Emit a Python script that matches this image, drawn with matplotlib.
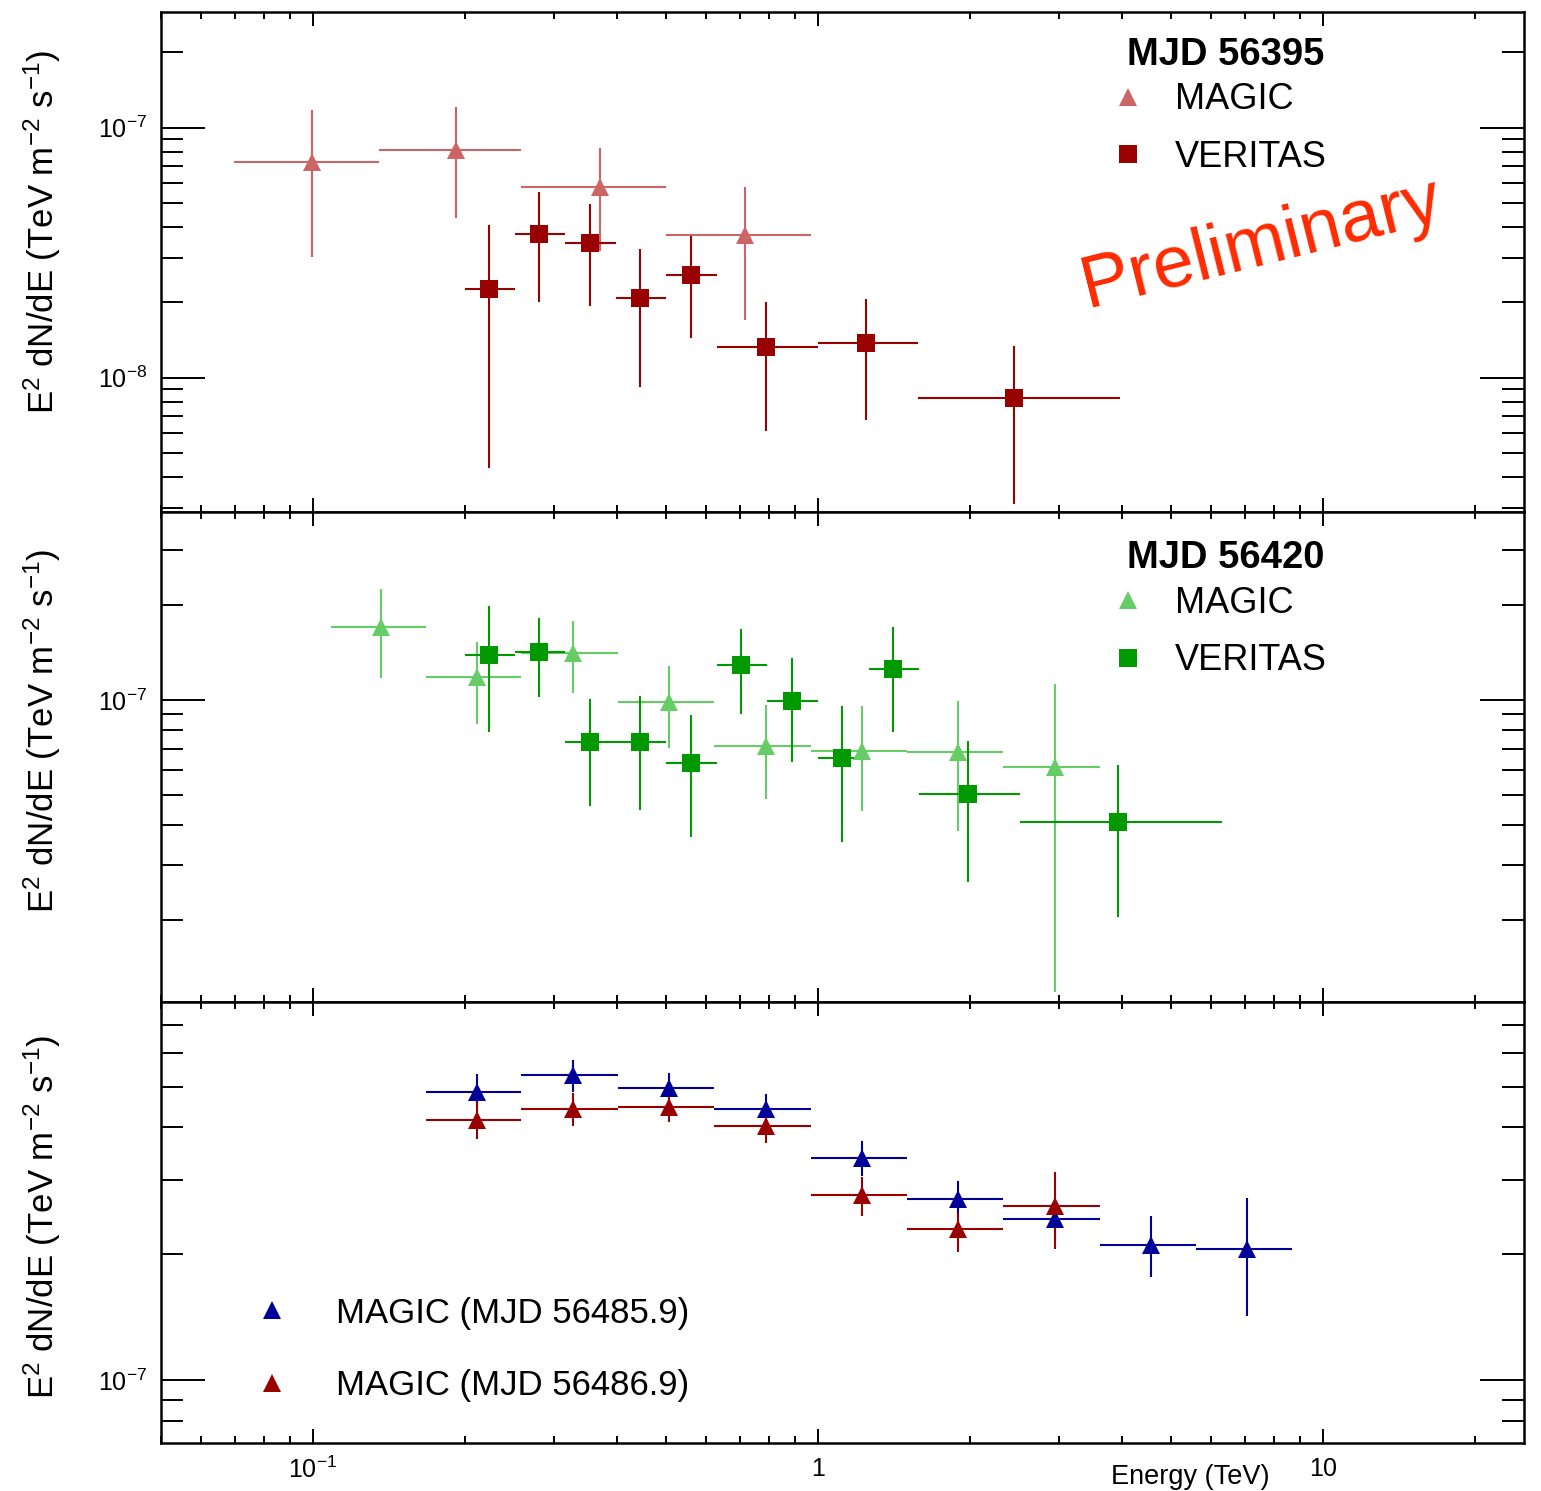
import matplotlib
matplotlib.use('Agg')
import matplotlib.pyplot as plt
import numpy as np
from matplotlib.ticker import LogLocator, NullFormatter

plt.rcParams['font.family'] = ['Liberation Sans', 'DejaVu Sans']
plt.rcParams['mathtext.fontset'] = 'custom'
plt.rcParams['mathtext.rm'] = 'Liberation Sans'
plt.rcParams['mathtext.it'] = 'Liberation Sans:italic'
plt.rcParams['mathtext.bf'] = 'Liberation Sans:bold'

#%% dados  (energia em TeV, fluxo E^2 dN/dE em TeV m^-2 s^-1)
# painel 1 - MJD 56395
m1_e    = [0.0995, 0.192, 0.370, 0.717]
m1_elo  = [0.0698, 0.1351, 0.2582, 0.500]
m1_ehi  = [0.1351, 0.2582, 0.500, 0.968]
m1_f    = [7.32e-8, 8.17e-8, 5.77e-8, 3.71e-8]
m1_flo  = [3.03e-8, 4.34e-8, 3.21e-8, 1.70e-8]
m1_fhi  = [1.18e-7, 1.21e-7, 8.32e-8, 5.77e-8]

v1_e    = [0.223, 0.280, 0.354, 0.444, 0.561, 0.789, 1.245, 2.445]
v1_elo  = [0.200, 0.251, 0.316, 0.398, 0.500, 0.631, 1.000, 1.578]
v1_ehi  = [0.251, 0.316, 0.398, 0.500, 0.631, 1.000, 1.578, 3.96]
v1_f    = [2.26e-8, 3.75e-8, 3.45e-8, 2.08e-8, 2.57e-8, 1.32e-8, 1.37e-8, 8.32e-9]
v1_flo  = [4.34e-9, 2.01e-8, 1.94e-8, 9.21e-9, 1.44e-8, 6.09e-9, 6.74e-9, 3.12e-9]
v1_fhi  = [4.07e-8, 5.51e-8, 4.93e-8, 3.27e-8, 3.68e-8, 2.01e-8, 2.06e-8, 1.34e-8]

# painel 2 - MJD 56420
m2_e    = [0.1364, 0.2112, 0.3272, 0.5069, 0.789, 1.222, 1.893, 2.946]
m2_elo  = [0.1085, 0.1674, 0.2582, 0.4018, 0.622, 0.968, 1.50, 2.325]
m2_ehi  = [0.1674, 0.2582, 0.4018, 0.622, 0.968, 1.50, 2.325, 3.617]
m2_f    = [1.70e-7, 1.18e-7, 1.41e-7, 9.86e-8, 7.15e-8, 6.90e-8, 6.85e-8, 6.14e-8]
m2_flo  = [1.17e-7, 8.39e-8, 1.05e-7, 7.05e-8, 4.86e-8, 4.45e-8, 3.85e-8, 1.18e-8]
m2_fhi  = [2.25e-7, 1.53e-7, 1.78e-7, 1.28e-7, 9.64e-8, 9.57e-8, 9.93e-8, 1.12e-7]

v2_e    = [0.223, 0.280, 0.354, 0.444, 0.561, 0.704, 0.888, 1.116, 1.408, 1.982, 3.93]
v2_elo  = [0.200, 0.251, 0.316, 0.398, 0.500, 0.631, 0.794, 1.000, 1.259, 1.585, 2.512]
v2_ehi  = [0.251, 0.316, 0.398, 0.500, 0.631, 0.794, 1.000, 1.259, 1.585, 2.512, 6.31]
v2_f    = [1.39e-7, 1.42e-7, 7.36e-8, 7.36e-8, 6.32e-8, 1.29e-7, 9.93e-8, 6.55e-8, 1.25e-7, 5.04e-8, 4.11e-8]
v2_flo  = [7.92e-8, 1.02e-7, 4.59e-8, 4.49e-8, 3.66e-8, 9.03e-8, 6.37e-8, 3.53e-8, 7.92e-8, 2.65e-8, 2.04e-8]
v2_fhi  = [1.98e-7, 1.82e-7, 1.01e-7, 1.03e-7, 8.96e-8, 1.68e-7, 1.36e-7, 9.57e-8, 1.70e-7, 7.42e-8, 6.23e-8]

# painel 3 - MAGIC em duas noites
a3_e    = [0.2112, 0.3272, 0.5069, 0.789, 1.222, 1.893, 2.946, 4.565, 7.07]
a3_elo  = [0.1674, 0.2582, 0.4018, 0.622, 0.968, 1.50, 2.325, 3.617, 5.603]
a3_ehi  = [0.2582, 0.4018, 0.622, 0.968, 1.50, 2.325, 3.617, 5.603, 8.68]
a3_f    = [4.85e-7, 5.32e-7, 4.96e-7, 4.42e-7, 3.38e-7, 2.70e-7, 2.42e-7, 2.10e-7, 2.06e-7]
a3_flo  = [4.52e-7, 4.85e-7, 4.59e-7, 4.07e-7, 3.06e-7, 2.40e-7, 2.20e-7, 1.76e-7, 1.42e-7]
a3_fhi  = [5.35e-7, 5.78e-7, 5.38e-7, 4.80e-7, 3.71e-7, 2.98e-7, 2.64e-7, 2.46e-7, 2.71e-7]

b3_e    = [0.2112, 0.3272, 0.5069, 0.789, 1.222, 1.893, 2.946]
b3_elo  = [0.1674, 0.2582, 0.4018, 0.622, 0.968, 1.50, 2.325]
b3_ehi  = [0.2582, 0.4018, 0.622, 0.968, 1.50, 2.325, 3.617]
b3_f    = [4.16e-7, 4.42e-7, 4.47e-7, 4.02e-7, 2.76e-7, 2.29e-7, 2.60e-7]
b3_flo  = [3.75e-7, 4.02e-7, 4.11e-7, 3.67e-7, 2.46e-7, 2.02e-7, 2.05e-7]
b3_fhi  = [4.59e-7, 4.82e-7, 4.85e-7, 4.40e-7, 3.04e-7, 2.50e-7, 3.13e-7]

ylabel = 'E$^{2}$ dN/dE (TeV m$^{-2}$ s$^{-1}$)'

#%% figura
fig = plt.figure(figsize=(15.41, 14.91), dpi=100)
ax1 = fig.add_axes([0.1045, 0.6566, 0.8845, 0.3353])
ax2 = fig.add_axes([0.1045, 0.3280, 0.8845, 0.3286])
ax3 = fig.add_axes([0.1045, 0.0322, 0.8845, 0.2958])


def pontos(ax, e, elo, ehi, f, flo, fhi, cor, marca):
    e = np.array(e)
    f = np.array(f)
    xerr = [e - np.array(elo), np.array(ehi) - e]
    yerr = [f - np.array(flo), np.array(fhi) - f]
    eb = ax.errorbar(e, f, xerr=xerr, yerr=yerr, fmt=marca, color=cor, ms=13,
                     mew=0, elinewidth=1.5, capsize=0)
    return eb.lines[0]


h_m1 = pontos(ax1, m1_e, m1_elo, m1_ehi, m1_f, m1_flo, m1_fhi, '#cc6666', '^')
h_v1 = pontos(ax1, v1_e, v1_elo, v1_ehi, v1_f, v1_flo, v1_fhi, '#990000', 's')
h_m2 = pontos(ax2, m2_e, m2_elo, m2_ehi, m2_f, m2_flo, m2_fhi, '#66cc66', '^')
h_v2 = pontos(ax2, v2_e, v2_elo, v2_ehi, v2_f, v2_flo, v2_fhi, '#009900', 's')
h_a3 = pontos(ax3, a3_e, a3_elo, a3_ehi, a3_f, a3_flo, a3_fhi, '#000099', '^')
h_b3 = pontos(ax3, b3_e, b3_elo, b3_ehi, b3_f, b3_flo, b3_fhi, '#990000', '^')

limites = [(2.9e-9, 2.9e-7), (1.1e-8, 3.95e-7), (7.1e-8, 7.95e-7)]
for ax, lim in zip([ax1, ax2, ax3], limites):
    ax.set_xscale('log')
    ax.set_yscale('log')
    ax.set_xlim(0.05, 25)
    ax.set_ylim(*lim)
    for s in ax.spines.values():
        s.set_linewidth(1.8)
    ax.xaxis.set_minor_locator(LogLocator(base=10, subs=np.arange(2, 10), numticks=100))
    ax.yaxis.set_minor_locator(LogLocator(base=10, subs=np.arange(2, 10), numticks=100))
    ax.xaxis.set_minor_formatter(NullFormatter())
    ax.yaxis.set_minor_formatter(NullFormatter())
    ax.tick_params(which='both', direction='in', top=True, right=True, width=1.4,
                   labelsize=18)
    ax.tick_params(axis='y', which='major', length=32, pad=10)
    ax.tick_params(axis='y', which='minor', length=16)
    ax.tick_params(axis='x', which='major', length=10, pad=10)
    ax.tick_params(axis='x', which='minor', length=5)
    ax.text(-0.087, 0.925, ylabel, transform=ax.transAxes, rotation=90,
            ha='center', va='top', fontsize=25)

ax1.tick_params(axis='x', labelbottom=False)
ax2.tick_params(axis='x', labelbottom=False)
ax3.set_xticks([0.1, 1, 10], ['10$^{-1}$', '$\\mathdefault{1}$', '$\\mathdefault{10}$'])
ax3.text(0.8136, -0.077, 'Energy (TeV)', transform=ax3.transAxes, ha='right',
         va='center', fontsize=19.5)

# legendas
ax1.text(0.7087, 0.914, 'MJD 56395', transform=ax1.transAxes, fontsize=27.5,
         fontweight='bold', va='center', ha='left')
ax1.legend([h_m1, h_v1], ['MAGIC', 'VERITAS'], loc='center left',
           bbox_to_anchor=(0.7043, 0.767), frameon=False, fontsize=26,
           borderpad=0, borderaxespad=0, handlelength=0.4, handletextpad=1.1,
           labelspacing=0.63)

ax2.text(0.7087, 0.906, 'MJD 56420', transform=ax2.transAxes, fontsize=27.5,
         fontweight='bold', va='center', ha='left')
ax2.legend([h_m2, h_v2], ['MAGIC', 'VERITAS'], loc='center left',
           bbox_to_anchor=(0.7043, 0.755), frameon=False, fontsize=26,
           borderpad=0, borderaxespad=0, handlelength=0.4, handletextpad=1.1,
           labelspacing=0.63)

ax3.legend([h_a3, h_b3], ['MAGIC (MJD 56485.9)', 'MAGIC (MJD 56486.9)'],
           loc='center left', bbox_to_anchor=(0.0763, 0.212), frameon=False,
           fontsize=25, borderpad=0, borderaxespad=0, handlelength=0.4,
           handletextpad=1.65, labelspacing=1.15)

ax1.text(0.807, 0.536, 'Preliminary', transform=ax1.transAxes, rotation=14,
         rotation_mode='anchor', ha='center', va='center', fontsize=53,
         color='#ff2a00')

fig.savefig('out.png', dpi=100)
